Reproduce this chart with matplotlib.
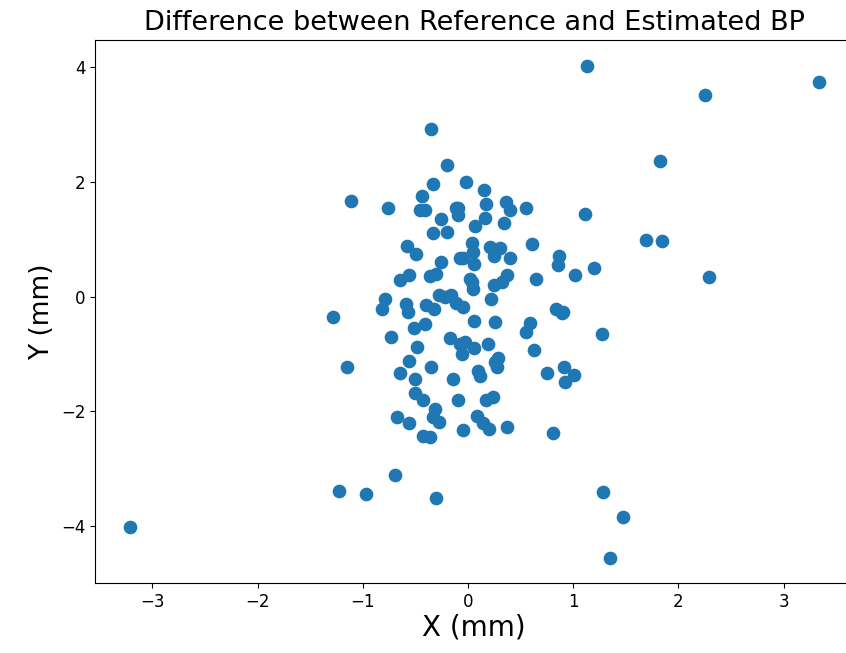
import matplotlib as mpl
mpl.use('Agg')
import matplotlib.pyplot as plt
import numpy as np

# differences (mm)
dx = [-0.35, -0.20, -0.33, -0.02, -1.11, -0.76, -0.44, -0.46, -0.41, -0.11,
      -0.09, -0.26, -0.33, -0.20, -0.58, -0.49, -0.26, -0.08, -0.65, -0.56,
      -0.36, -0.30, 0.15, -0.09, 0.17, 0.36, 0.40, 0.55, 1.11, 0.16,
      0.07, 0.34, 0.04, 0.05, -0.05, 0.06, 0.21, 0.30, 0.25, 0.40,
      0.61, 0.87, 0.86, 1.02, 1.20, 0.65, 0.02, 0.37, 0.25, 0.32,
      0.05, 1.69, 1.84, 2.29, 0.90, 1.27, 0.91, 1.01, 0.92, -1.28,
      -1.15, -0.79, -0.82, -0.59, -0.57, -0.40, -0.32, -0.28, -0.22, -0.16,
      -0.11, -0.05, -0.73, -0.51, -0.41, -0.48, -0.17, -0.08, -0.03, -0.06,
      -0.56, -0.65, -0.50, -0.35, -0.14, -0.50, -0.43, -0.31, -0.33, -0.28,
      -0.09, -0.67, -0.56, -0.43, -0.36, -0.05, 0.04, 0.22, 0.06, 0.26,
      0.84, 0.89, 0.59, 0.55, 0.06, 0.19, 0.63, 0.29, 0.26, 0.28,
      0.10, 0.11, 0.75, 0.17, 0.24, 0.09, 0.14, 0.20, 0.37, 0.81,
      1.13, 2.25, 3.34, 1.83, -3.21, -1.23, -0.97, -0.69, -0.30, 1.28,
      1.47, 1.35]
dy = [2.92, 2.30, 1.96, 1.99, 1.67, 1.55, 1.75, 1.51, 1.51, 1.55,
      1.43, 1.36, 1.10, 1.12, 0.89, 0.75, 0.61, 0.68, 0.29, 0.37,
      0.36, 0.39, 1.86, 1.55, 1.61, 1.65, 1.50, 1.55, 1.44, 1.37,
      1.23, 1.29, 0.94, 0.78, 0.68, 0.57, 0.87, 0.85, 0.71, 0.68,
      0.91, 0.71, 0.55, 0.37, 0.50, 0.30, 0.30, 0.37, 0.20, 0.26,
      0.14, 0.99, 0.97, 0.34, -0.26, -0.65, -1.22, -1.37, -1.48, -0.36,
      -1.22, -0.04, -0.22, -0.13, -0.26, -0.15, -0.21, 0.03, 0.00, 0.03,
      -0.12, -0.18, -0.70, -0.55, -0.47, -0.87, -0.73, -0.82, -0.79, -1.00,
      -1.12, -1.33, -1.43, -1.23, -1.44, -1.68, -1.81, -1.95, -2.10, -2.19,
      -1.80, -2.10, -2.20, -2.43, -2.44, -2.33, 0.26, -0.05, -0.42, -0.44,
      -0.21, -0.28, -0.46, -0.61, -0.90, -0.83, -0.93, -1.07, -1.14, -1.22,
      -1.29, -1.39, -1.33, -1.80, -1.75, -2.08, -2.21, -2.31, -2.28, -2.37,
      4.02, 3.51, 3.74, 2.36, -4.01, -3.39, -3.44, -3.11, -3.51, -3.41,
      -3.84, -4.56]

fig = plt.figure(figsize=(8.46, 6.53), dpi=100)
ax = fig.add_axes([0.1123, 0.1072, 0.896, 0.8315])
ax.scatter(dx, dy, s=78, color='#1f77b4')

ax.set_xlim(-3.545, 3.66)
ax.set_ylim(-4.99, 4.47)
ax.set_xticks([-3, -2, -1, 0, 1, 2, 3])
ax.set_yticks([-4, -2, 0, 2, 4])
ax.tick_params(labelsize=12)
ax.set_xlabel('X (mm)', fontsize=20, labelpad=2)
ax.set_ylabel('Y (mm)', fontsize=19)
ax.set_title('Difference between Reference and Estimated BP', fontsize=19.5, pad=7)

plt.savefig('out.png')
